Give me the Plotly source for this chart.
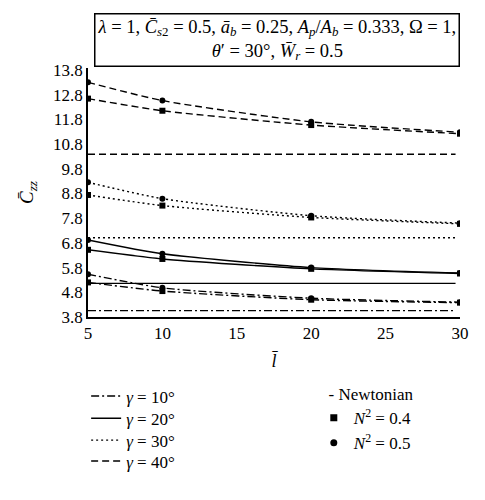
import plotly.graph_objects as go

l_vals = [5, 10, 20, 30]

# N^2 = 0.4 (squares)
g10_n04 = [5.20, 4.85, 4.50, 4.38]
g20_n04 = [6.52, 6.15, 5.75, 5.56]
g30_n04 = [8.74, 8.31, 7.83, 7.57]
g40_n04 = [12.64, 12.15, 11.57, 11.22]

# N^2 = 0.5 (circles)
g10_n05 = [5.53, 4.98, 4.56, 4.40]
g20_n05 = [6.92, 6.36, 5.80, 5.58]
g30_n05 = [9.25, 8.59, 7.90, 7.60]
g40_n05 = [13.30, 12.56, 11.70, 11.28]

# Newtonian (horizontal)
newt = [4.06, 5.16, 7.01, 10.39]
newt_x = [5, 29.7]

gamma_labels = ["<i>γ</i> = 10°", "<i>γ</i> = 20°", "<i>γ</i> = 30°", "<i>γ</i> = 40°"]
dashes = ["8px,3px,2px,3px", "solid", "2px,3px", "7px,4px"]

FONT = "Liberation Serif"
fig = go.Figure()

n04 = [g10_n04, g20_n04, g30_n04, g40_n04]
n05 = [g10_n05, g20_n05, g30_n05, g40_n05]

gamma_legends = ["legend", "legend3", "legend4", "legend5"]
gamma_legend_y = [-0.247, -0.336, -0.424, -0.508]

for i in range(4):
    fig.add_trace(go.Scatter(
        x=newt_x, y=[newt[i], newt[i]], mode="lines",
        line=dict(color="black", width=1.4, dash=dashes[i]),
        name=gamma_labels[i], legend=gamma_legends[i], showlegend=True))
    fig.add_trace(go.Scatter(
        x=l_vals, y=n04[i], mode="lines+markers",
        line=dict(color="black", width=1.4, dash=dashes[i], shape="spline", smoothing=0.6),
        marker=dict(symbol="square", size=6, color="black"),
        showlegend=False))
    fig.add_trace(go.Scatter(
        x=l_vals, y=n05[i], mode="lines+markers",
        line=dict(color="black", width=1.4, dash=dashes[i], shape="spline", smoothing=0.6),
        marker=dict(symbol="circle", size=6, color="black"),
        showlegend=False))

fig.add_trace(go.Scatter(x=[None], y=[None], mode="markers",
                         marker=dict(symbol="square", size=7, color="black"),
                         name="<i>N</i><sup>2</sup> = 0.4", legend="legend2"))
fig.add_trace(go.Scatter(x=[None], y=[None], mode="markers",
                         marker=dict(symbol="circle", size=7, color="black"),
                         name="<i>N</i><sup>2</sup> = 0.5", legend="legend2"))

title_text = ("<i>λ</i> = 1, <i>C̄</i><sub><i>s</i>2</sub> = 0.5, <i>ā</i><sub><i>b</i></sub> = 0.25, "
              "<i>A</i><sub><i>p</i></sub>/<i>A</i><sub><i>b</i></sub> = 0.333, Ω = 1,<br>"
              "<i>θ</i>′ = 30°, <i>W̄</i><sub><i>r</i></sub> = 0.5")

fig.add_annotation(
    x=0.507, y=1.114, xref="paper", yref="paper", xanchor="center", yanchor="middle",
    text=title_text, showarrow=False, align="center",
    font=dict(family=FONT, size=18.5, color="black"),
    bordercolor="black", borderwidth=1.5, borderpad=2, bgcolor="white")

legend_common = dict(xanchor="left", yanchor="top", bgcolor="rgba(0,0,0,0)",
                     font=dict(family=FONT, size=17), itemwidth=30)

layout_legends = {}
for name, yv in zip(gamma_legends, gamma_legend_y):
    layout_legends[name] = dict(x=-0.005, y=yv, **legend_common)

fig.update_layout(
    width=485, height=500,
    margin=dict(l=80, r=33, t=60, b=191),
    plot_bgcolor="white", paper_bgcolor="white",
    font=dict(family=FONT, size=16, color="black"),
    xaxis=dict(range=[5, 30], tickvals=[5, 10, 15, 20, 25, 30], showgrid=False,
               zeroline=False, showline=True, linecolor="black", linewidth=1.5,
               ticks="", tickfont=dict(size=17),
               title=dict(text="<i>l̄</i>", font=dict(size=18), standoff=12)),
    yaxis=dict(range=[3.8, 13.88], tickvals=[3.8, 4.8, 5.8, 6.8, 7.8, 8.8, 9.8, 10.8, 11.8, 12.8, 13.8],
               tickformat=".1f", showgrid=False, zeroline=False, showline=True,
               linecolor="black", linewidth=1.5, ticks="", tickfont=dict(size=17),
               title=dict(text="<i>C̄</i><sub><i>zz</i></sub>", font=dict(size=19), standoff=14)),
    legend2=dict(x=0.607, y=-0.245, xanchor="left", yanchor="top", bgcolor="rgba(0,0,0,0)",
                 title=dict(text="\u00a0\u00a0\u00a0- Newtonian", font=dict(family=FONT, size=17)),
                 font=dict(family=FONT, size=17)),
    **layout_legends,
)

fig.write_html("out.html")
